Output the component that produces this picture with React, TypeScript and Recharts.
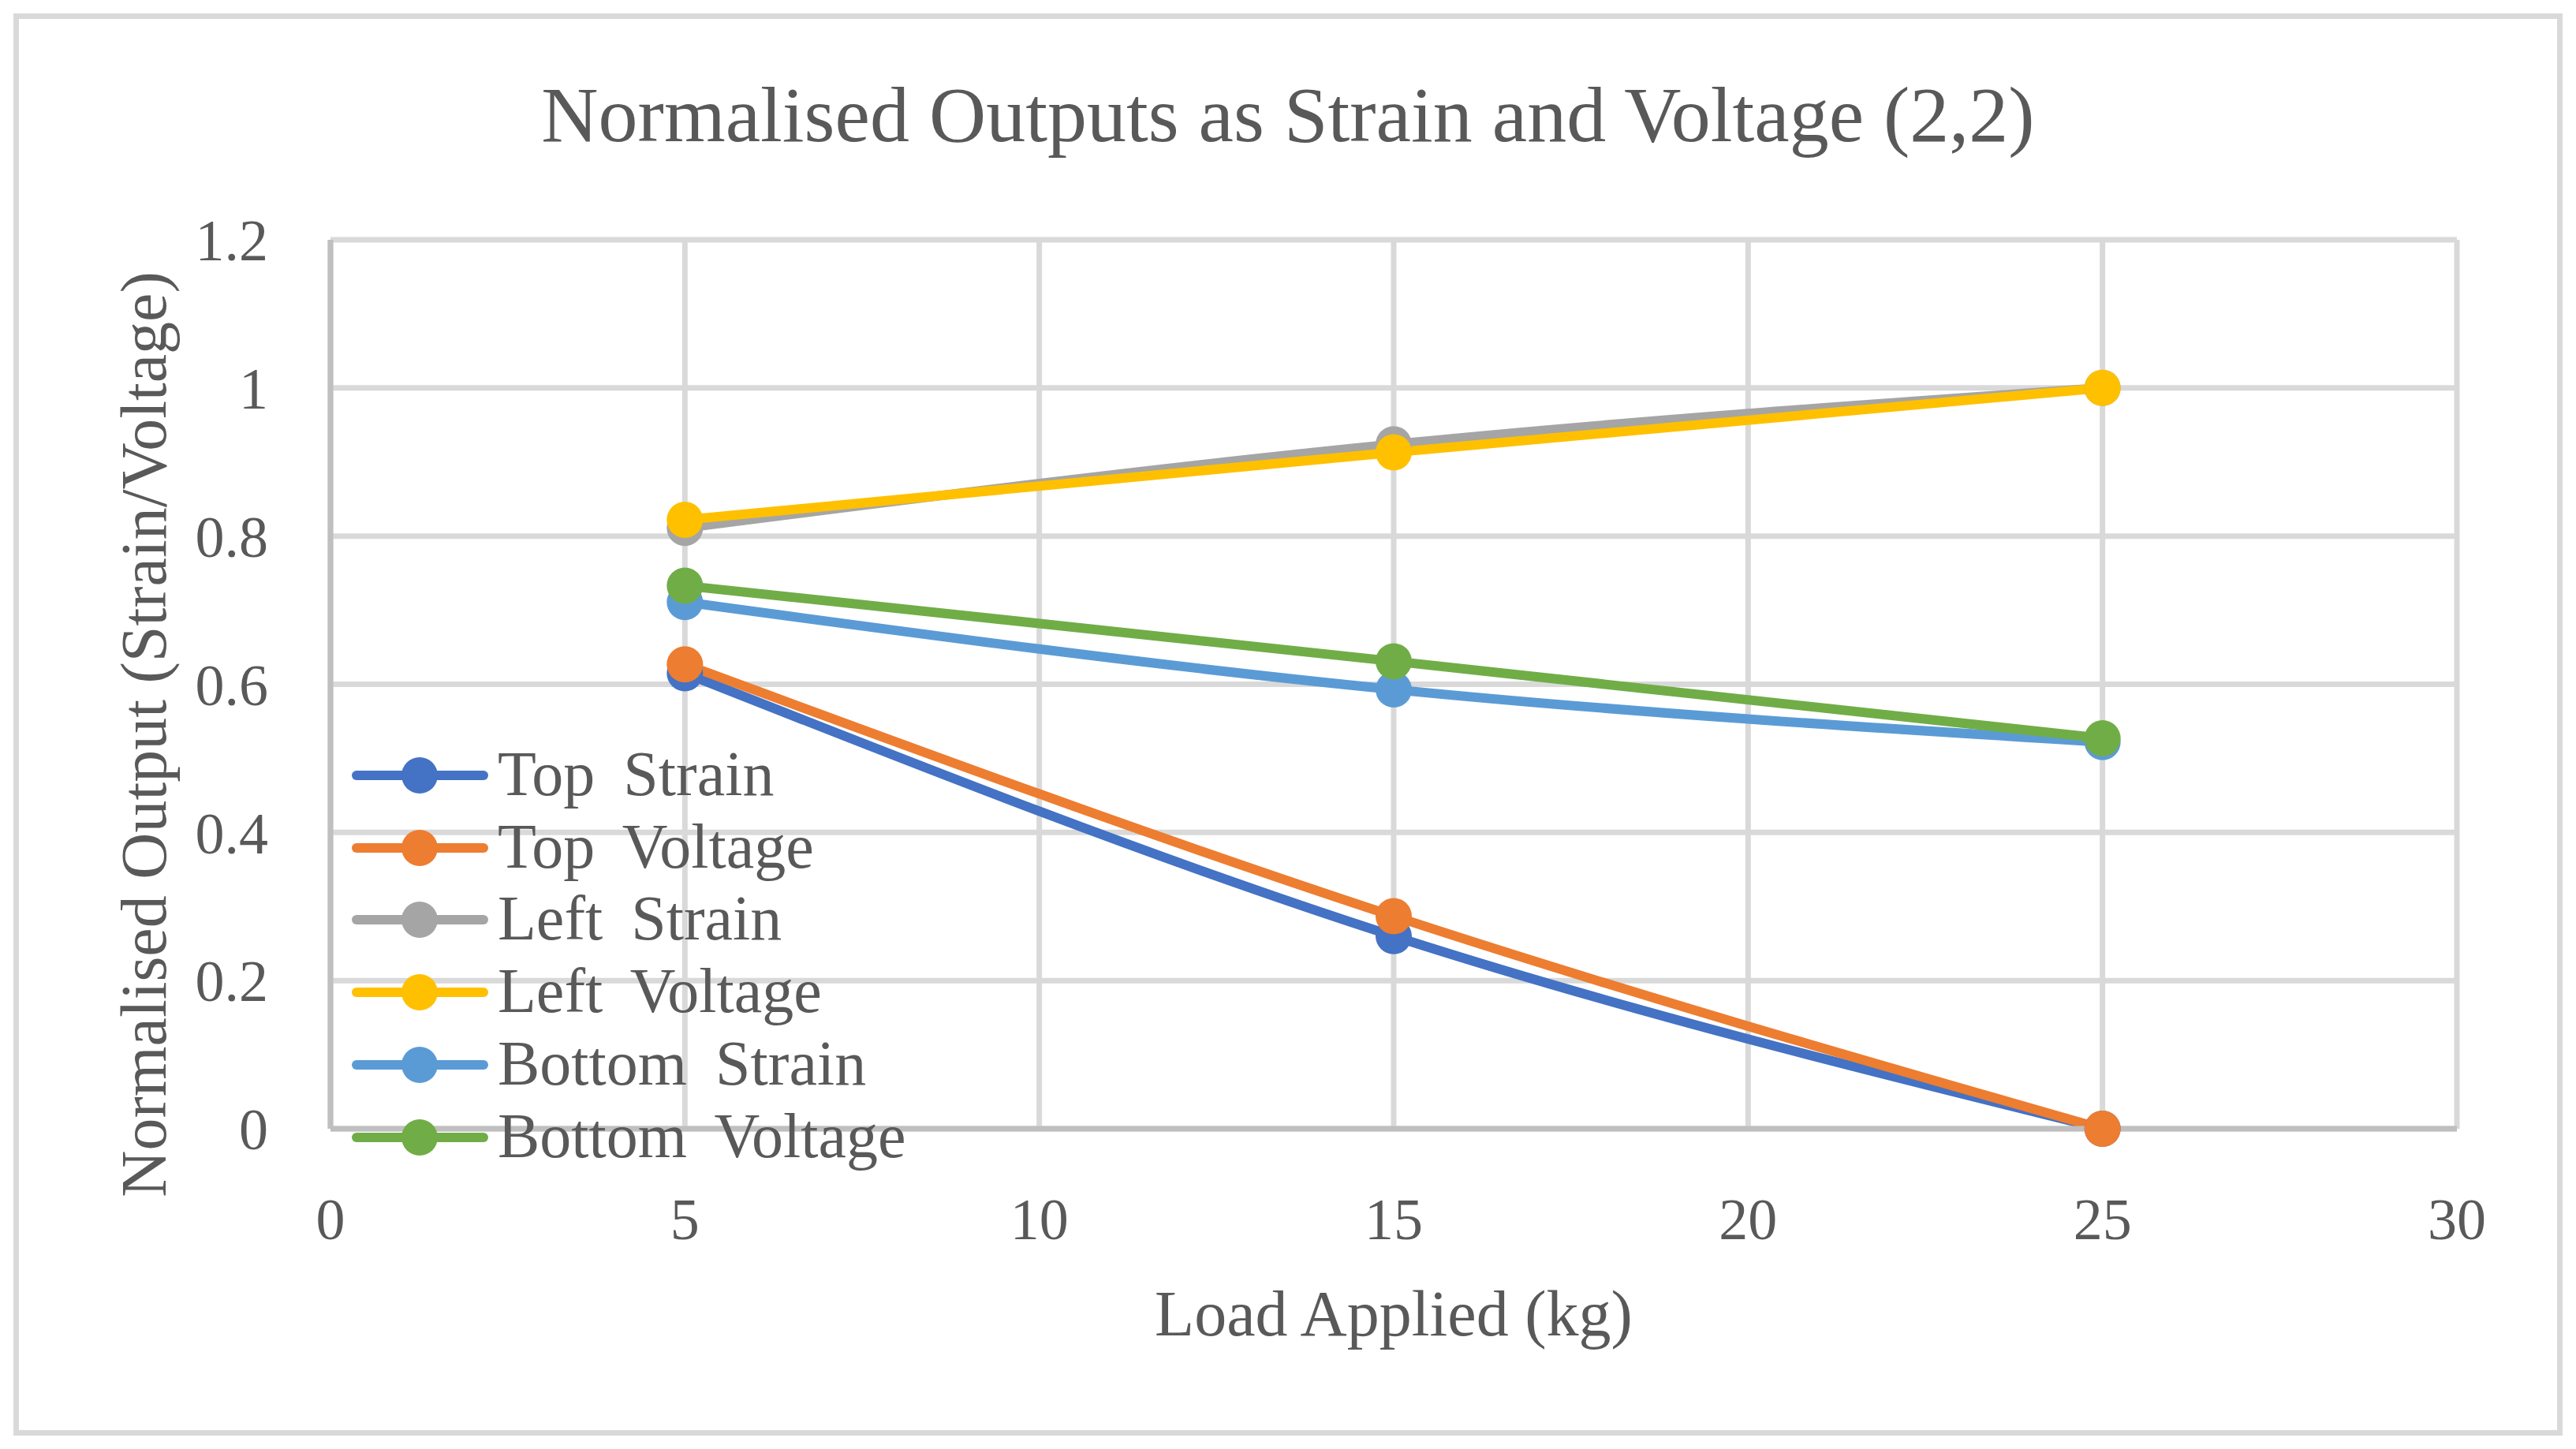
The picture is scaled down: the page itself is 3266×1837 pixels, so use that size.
import React from "react";
import { LineChart, Line, XAxis, YAxis, CartesianGrid } from "recharts";

const loads = [5, 15, 25];
const topStrain = [0.615, 0.26, 0];
const topVoltage = [0.627, 0.287, 0];
const leftStrain = [0.811, 0.924, 1];
const leftVoltage = [0.822, 0.913, 1];
const bottomStrain = [0.711, 0.593, 0.522];
const bottomVoltage = [0.733, 0.631, 0.527];

const xTicks = [0, 5, 10, 15, 20, 25, 30];
const yTicks = [0, 0.2, 0.4, 0.6, 0.8, 1, 1.2];

const series = [
  { key: "topStrain", name: "Top Strain", color: "#4472C4", values: topStrain },
  { key: "topVoltage", name: "Top Voltage", color: "#ED7D31", values: topVoltage },
  { key: "leftStrain", name: "Left Strain", color: "#A5A5A5", values: leftStrain },
  { key: "leftVoltage", name: "Left Voltage", color: "#FFC000", values: leftVoltage },
  { key: "bottomStrain", name: "Bottom Strain", color: "#5B9BD5", values: bottomStrain },
  { key: "bottomVoltage", name: "Bottom Voltage", color: "#70AD47", values: bottomVoltage },
];

const data = loads.map((load, i) => {
  const row: Record<string, number> = { load };
  series.forEach((s) => {
    row[s.key] = s.values[i];
  });
  return row;
});

const W = 3266;
const H = 1837;
const font = "'Liberation Serif', 'Times New Roman', serif";
const textColor = "#595959";
const tickStyle = { fontFamily: font, fontSize: 74, fill: textColor };

export default function App() {
  return (
    <div style={{ position: "relative", width: W, height: H, background: "#fff", fontFamily: font }}>
      <style>{"body{margin:0}"}</style>
      <div
        style={{
          position: "absolute",
          left: 17,
          top: 17,
          width: W - 34,
          height: H - 34,
          border: "7px solid #d9d9d9",
          boxSizing: "border-box",
        }}
      />
      <div
        style={{
          position: "absolute",
          left: 0,
          width: W,
          top: 146 - 60,
          height: 120,
          lineHeight: "120px",
          textAlign: "center",
          fontSize: 100,
          color: textColor,
        }}
      >
        Normalised Outputs as Strain and Voltage (2,2)
      </div>
      <div style={{ position: "absolute", left: 0, top: 0 }}>
        <LineChart
          width={W}
          height={H}
          data={data}
          margin={{ top: 304, right: 151, bottom: 206, left: 219 }}
        >
          <CartesianGrid stroke="#d9d9d9" strokeWidth={7} />
          <XAxis
            dataKey="load"
            type="number"
            domain={[0, 30]}
            ticks={xTicks}
            height={200}
            tickLine={false}
            tickSize={0}
            tickMargin={87}
            axisLine={{ stroke: "#bfbfbf", strokeWidth: 7 }}
            tick={tickStyle}
          />
          <YAxis
            type="number"
            domain={[0, 1.2]}
            ticks={yTicks}
            width={200}
            tickLine={false}
            tickSize={0}
            tickMargin={79}
            axisLine={{ stroke: "#bfbfbf", strokeWidth: 7 }}
            tick={tickStyle}
          />
          {series.map((s) => (
            <Line
              key={s.key}
              type="monotone"
              dataKey={s.key}
              name={s.name}
              stroke={s.color}
              strokeWidth={12}
              dot={{ r: 23, fill: s.color, stroke: s.color, strokeWidth: 0 }}
              activeDot={false}
              isAnimationActive={false}
            />
          ))}
        </LineChart>
      </div>
      <div
        style={{
          position: "absolute",
          left: 0,
          width: W,
          top: 1666 - 50,
          height: 100,
          lineHeight: "100px",
          textAlign: "center",
          paddingLeft: 419 - 151,
          boxSizing: "border-box",
          fontSize: 82,
          color: textColor,
        }}
      >
        Load Applied (kg)
      </div>
      <div
        style={{
          position: "absolute",
          left: 183 - 800,
          top: 931 - 50,
          width: 1600,
          height: 100,
          lineHeight: "100px",
          textAlign: "center",
          fontSize: 82,
          color: textColor,
          transform: "rotate(-90deg)",
        }}
      >
        Normalised Output (Strain/Voltage)
      </div>
      {series.map((s, i) => (
        <div
          key={s.key}
          style={{
            position: "absolute",
            left: 440,
            top: 983 + i * 91.7 - 45,
            height: 90,
            display: "flex",
            alignItems: "center",
            fontSize: 80,
            color: textColor,
            whiteSpace: "nowrap",
            wordSpacing: 16,
          }}
        >
          <svg width={186} height={90} style={{ display: "block" }}>
            <line x1={12} y1={45} x2={173} y2={45} stroke={s.color} strokeWidth={12} strokeLinecap="round" />
            <circle cx={92} cy={45} r={23} fill={s.color} />
          </svg>
          <span style={{ marginLeft: 5, lineHeight: "90px", position: "relative", top: -2 }}>{s.name}</span>
        </div>
      ))}
    </div>
  );
}
